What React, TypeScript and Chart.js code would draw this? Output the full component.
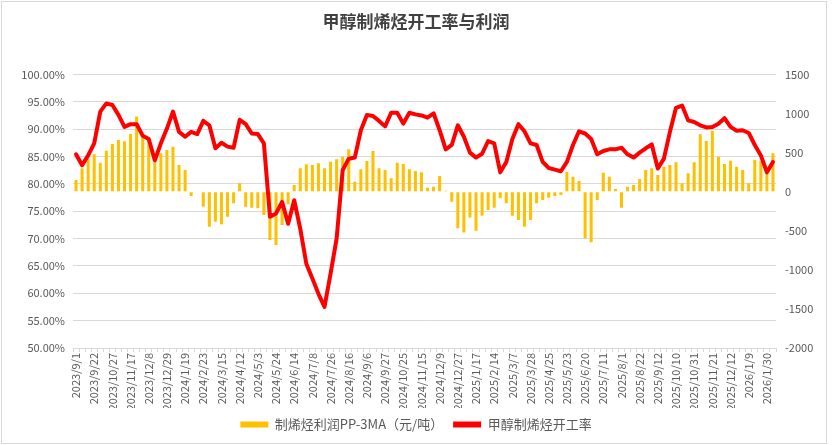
import React, { useEffect, useRef } from "react";
import { Chart, registerables } from "chart.js";

Chart.register(...registerables);

const FONT = '"Noto Sans CJK SC", "Noto Sans", sans-serif';

const categories = [
  "2023/9/1", "2023/9/8", "2023/9/15", "2023/9/22", "2023/10/13", "2023/10/20", "2023/10/27", "2023/11/3", "2023/11/10", "2023/11/17",
  "2023/11/24", "2023/12/1", "2023/12/8", "2023/12/15", "2023/12/22", "2023/12/29", "2024/1/5", "2024/1/12", "2024/1/19", "2024/1/26",
  "2024/2/2", "2024/2/23", "2024/3/1", "2024/3/8", "2024/3/15", "2024/3/22", "2024/3/29", "2024/4/12", "2024/4/19", "2024/4/26",
  "2024/5/3", "2024/5/10", "2024/5/17", "2024/5/24", "2024/5/31", "2024/6/7", "2024/6/14", "2024/6/21", "2024/6/28", "2024/7/8",
  "2024/7/12", "2024/7/19", "2024/7/26", "2024/8/2", "2024/8/9", "2024/8/16", "2024/8/23", "2024/8/30", "2024/9/6", "2024/9/13",
  "2024/9/20", "2024/9/27", "2024/10/11", "2024/10/18", "2024/10/25", "2024/11/1", "2024/11/8", "2024/11/15", "2024/11/22", "2024/11/29",
  "2024/12/9", "2024/12/13", "2024/12/20", "2024/12/27", "2025/1/3", "2025/1/10", "2025/1/17", "2025/1/24", "2025/2/7", "2025/2/14",
  "2025/2/21", "2025/2/28", "2025/3/7", "2025/3/14", "2025/3/21", "2025/3/28", "2025/4/11", "2025/4/18", "2025/4/25", "2025/5/9",
  "2025/5/16", "2025/5/23", "2025/6/6", "2025/6/13", "2025/6/20", "2025/6/27", "2025/7/4", "2025/7/11", "2025/7/18", "2025/7/25",
  "2025/8/1", "2025/8/8", "2025/8/15", "2025/8/22", "2025/8/29", "2025/9/5", "2025/9/12", "2025/9/19", "2025/9/26", "2025/10/10",
  "2025/10/17", "2025/10/24", "2025/10/31", "2025/11/7", "2025/11/14", "2025/11/21", "2025/11/28", "2025/12/5", "2025/12/12", "2025/12/19",
  "2025/12/26", "2026/1/9", "2026/1/16", "2026/1/23", "2026/1/30", "2026/2/6",
];

// 甲醇制烯烃开工率 (%)
const operatingRate = [
  85.4, 83.4, 85.2, 87.4, 93.2, 94.7, 94.4, 92.6, 90.4, 90.9,
  90.9, 88.8, 88.2, 84.3, 87.4, 90.1, 93.2, 89.5, 88.6, 89.5,
  89.1, 91.5, 90.7, 86.5, 87.5, 86.8, 86.6, 91.7, 90.9, 89.2,
  89.1, 87.4, 74.0, 74.6, 76.7, 72.7, 77.0, 71.8, 65.4, 62.7,
  59.9, 57.5, 63.6, 70.0, 82.5, 84.6, 84.8, 89.8, 92.6, 92.4,
  91.5, 90.5, 93.0, 93.0, 91.0, 93.0, 92.7, 92.5, 92.1, 92.9,
  89.8, 86.3, 87.1, 90.7, 88.6, 85.7, 84.8, 85.5, 87.8, 87.4,
  82.1, 84.0, 88.2, 90.9, 89.6, 87.4, 87.1, 84.0, 82.9, 82.6,
  82.3, 84.0, 87.1, 89.6, 89.2, 88.2, 85.4, 86.0, 86.3, 86.3,
  86.6, 85.4, 84.8, 85.7, 86.5, 87.2, 82.8, 84.6, 89.5, 93.9,
  94.3, 91.6, 91.3, 90.7, 90.3, 90.4, 91.0, 92.0, 90.4, 89.7,
  89.8, 89.3, 87.1, 85.2, 82.1, 84.0,
];

// 制烯烃利润PP-3MA（元/吨）
const profit = [
  149, 298, 418, 477, 371, 524, 610, 661, 644, 737,
  960, 725, 673, 448, 490, 533, 575, 341, 277, -55,
  -9, -192, -448, -384, -418, -320, -149, 107, -192, -205,
  -213, -298, -618, -682, -426, -160, 85, 298, 350, 341,
  362, 298, 384, 414, 448, 541, 128, 286, 392, 520,
  298, 277, 171, 371, 354, 286, 264, 247, 51, 64,
  200, 13, -128, -469, -524, -332, -499, -307, -234, -205,
  -85, -149, -307, -362, -448, -362, -149, -107, -77, -55,
  -43, 256, 192, 136, -597, -648, -107, 243, 192, 34,
  -205, 64, 85, 162, 277, 298, 213, 320, 341, 375,
  107, 234, 375, 733, 648, 776, 448, 354, 396, 320,
  277, 107, 405, 396, 256, 490,
];

const TITLE = "甲醇制烯烃开工率与利润";
const BAR_LABEL = "制烯烃利润PP-3MA（元/吨）";
const LINE_LABEL = "甲醇制烯烃开工率";

export default function App() {
  const canvasRef = useRef<HTMLCanvasElement | null>(null);

  useEffect(() => {
    if (!canvasRef.current) return;
    Chart.defaults.font.family = FONT;
    const chart = new Chart(canvasRef.current, {
      type: "bar",
      data: {
        labels: categories,
        datasets: [
          {
            type: "bar",
            label: BAR_LABEL,
            data: profit,
            yAxisID: "y1",
            backgroundColor: "#FFC000",
            borderWidth: 0,
            barPercentage: 0.5,
            categoryPercentage: 1.0,
            order: 1,
          },
          {
            type: "line",
            label: LINE_LABEL,
            data: operatingRate,
            yAxisID: "y",
            borderColor: "#FF0000",
            backgroundColor: "#FF0000",
            borderWidth: 4,
            pointRadius: 0,
            tension: 0,
            fill: false,
            borderJoinStyle: "round",
            borderCapStyle: "round",
            order: 0,
          },
        ],
      } as any,
      options: {
        responsive: false,
        animation: false,
        layout: { padding: { left: 0, right: 0, top: 0, bottom: 4 } },
        plugins: {
          title: {
            display: true,
            text: TITLE,
            color: "#404040",
            font: { family: FONT, size: 17, weight: "bold" },
            padding: { top: 11, bottom: 43 },
          },
          legend: {
            position: "bottom",
            labels: {
              boxWidth: 28,
              boxHeight: 6,
              padding: 10,
              color: "#595959",
              font: { family: FONT, size: 13 },
              sort: (a: any, b: any) => a.datasetIndex - b.datasetIndex,
              generateLabels: (ch: any) => {
                const items = (Chart.defaults.plugins.legend.labels as any).generateLabels(ch);
                items.forEach((it: any) => {
                  it.lineWidth = 0;
                });
                return items;
              },
            },
          },
          tooltip: { enabled: false },
        },
        scales: {
          x: {
            type: "category",
            offset: true,
            grid: {
              offset: true,
              drawOnChartArea: false,
              drawTicks: true,
              tickLength: 4,
              color: "#D9D9D9",
            },
            border: { display: true, color: "#D9D9D9" },
            ticks: {
              autoSkip: false,
              maxRotation: 90,
              minRotation: 90,
              padding: 1,
              color: "#595959",
              font: { family: FONT, size: 11 },
              callback: function (this: any, value: any, index: number) {
                return index % 3 === 0 ? this.getLabelForValue(value) : "";
              },
            },
            afterFit: (s: any) => {
              s.height = 60;
            },
          },
          y: {
            position: "left",
            min: 50,
            max: 100,
            ticks: {
              stepSize: 5,
              padding: 8,
              color: "#595959",
              font: { family: FONT, size: 11 },
              callback: (v: any) => Number(v).toFixed(2) + "%",
            },
            grid: { color: "#D9D9D9", drawTicks: false },
            border: { display: false },
            afterFit: (s: any) => {
              s.width = 73;
            },
          },
          y1: {
            position: "right",
            min: -2000,
            max: 1500,
            ticks: {
              stepSize: 500,
              padding: 9,
              color: "#595959",
              font: { family: FONT, size: 11 },
              callback: (v: any) => String(v),
            },
            grid: { drawOnChartArea: false, drawTicks: false },
            border: { display: false },
            afterFit: (s: any) => {
              s.width = 56;
            },
          },
        },
      } as any,
    });
    return () => chart.destroy();
  }, []);

  return (
    <div style={{ position: "absolute", left: 0, top: 0, width: 832, height: 445, background: "#fff" }}>
      <canvas ref={canvasRef} width={832} height={445} style={{ display: "block" }} />
      <div
        style={{
          position: "absolute",
          left: 1,
          top: 1,
          width: 826,
          height: 443,
          border: "1px solid #D9D9D9",
          boxSizing: "border-box",
          pointerEvents: "none",
        }}
      />
    </div>
  );
}
